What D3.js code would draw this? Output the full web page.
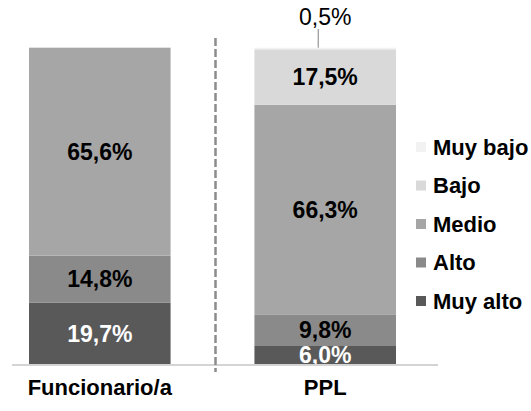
<!DOCTYPE html>
<html>
<head>
<meta charset="utf-8">
<script src="https://cdn.jsdelivr.net/npm/d3@7"></script>
<style>
  body { margin: 0; background: #fff; }
  svg { display: block; font-family: "Liberation Sans", Arial, sans-serif; }
</style>
</head>
<body>
<div id="chart"></div>
<script>
// Stacked 100% bars, Funcionario/a vs PPL
const categories = ["Funcionario/a", "PPL"]
const levels = ["Muy alto", "Alto", "Medio", "Bajo", "Muy bajo"]   // bottom to top
const muyAlto = [19.7, 6.0]
const alto = [14.8, 9.8]
const medio = [65.6, 66.3]
const bajo = [0, 17.5]
const muyBajo = [0, 0.5]
const legendOrder = ["Muy bajo", "Bajo", "Medio", "Alto", "Muy alto"]

const colors = {
  "Muy alto": "#595959",
  "Alto": "#8a8a8a",
  "Medio": "#a6a6a6",
  "Bajo": "#d9d9d9",
  "Muy bajo": "#f2f2f2"
}
const labelColors = { "Muy alto": "#ffffff", "Alto": "#000000", "Medio": "#000000", "Bajo": "#000000", "Muy bajo": "#000000" }

const rows = categories.map((c, i) => ({
  category: c,
  "Muy alto": muyAlto[i],
  "Alto": alto[i],
  "Medio": medio[i],
  "Bajo": bajo[i],
  "Muy bajo": muyBajo[i]
}))

const width = 531, height = 411

const svg = d3.select("#chart").append("svg")
  .attr("width", width)
  .attr("height", height)

const x = d3.scaleBand()
  .domain(categories)
  .range([29, 396])
  .paddingInner(0.372)
  .paddingOuter(0)

const y = d3.scaleLinear()
  .domain([0, 100])
  .range([365, 48])

const series = d3.stack().keys(levels)(rows)

// bars
const layers = svg.selectAll(".layer")
  .data(series)
  .enter()
  .append("g")
  .attr("class", "layer")
  .attr("fill", d => colors[d.key])

layers.selectAll("rect")
  .data(d => d.map(v => ({ key: d.key, v })))
  .enter()
  .append("rect")
  .attr("x", d => x(d.v.data.category))
  .attr("y", d => y(d.v[1]))
  .attr("width", x.bandwidth())
  .attr("height", d => y(d.v[0]) - y(d.v[1]))

// baseline
svg.append("line")
  .attr("x1", 12).attr("x2", 438)
  .attr("y1", y(0)).attr("y2", y(0))
  .attr("stroke", "#d4d4d4")
  .attr("stroke-width", 2)

// dashed separator
const sepX = x("Funcionario/a") + x.bandwidth() + (x("PPL") - x("Funcionario/a") - x.bandwidth()) / 2 + 3
svg.append("line")
  .attr("x1", sepX).attr("x2", sepX)
  .attr("y1", 38).attr("y2", 372)
  .attr("stroke", "#8c8c8c")
  .attr("stroke-width", 2.5)
  .attr("stroke-dasharray", "8,3")

// value labels inside segments (skip the tiny one)
const fmt = v => v.toFixed(1).replace(".", ",") + "%"
layers.selectAll("text")
  .data(d => d.map(v => ({ key: d.key, v })).filter(d => d.v[1] - d.v[0] >= 5))
  .enter()
  .append("text")
  .attr("x", d => x(d.v.data.category) + x.bandwidth() / 2)
  .attr("y", d => (y(d.v[0]) + y(d.v[1])) / 2)
  .attr("text-anchor", "middle")
  .attr("dominant-baseline", "central")
  .attr("fill", d => labelColors[d.key])
  .style("font-size", "23px")
  .style("font-weight", "bold")
  .text(d => fmt(d.v[1] - d.v[0]))

// small segment label with leader line
const tiny = series.find(s => s.key === "Muy bajo")[1]
const tinyX = x("PPL") + x.bandwidth() / 2
svg.append("line")
  .attr("x1", tinyX - 7).attr("x2", tinyX - 7)
  .attr("y1", 29).attr("y2", y(tiny[1]))
  .attr("stroke", "#808080")
  .attr("stroke-width", 1)
svg.append("text")
  .attr("x", tinyX)
  .attr("y", 17)
  .attr("text-anchor", "middle")
  .attr("dominant-baseline", "central")
  .style("font-size", "23px")
  .text(fmt(tiny[1] - tiny[0]))

// category labels
svg.append("g")
  .selectAll("text")
  .data(categories)
  .enter()
  .append("text")
  .attr("x", d => x(d) + x.bandwidth() / 2)
  .attr("y", 387)
  .attr("text-anchor", "middle")
  .attr("dominant-baseline", "central")
  .style("font-size", "22px")
  .style("font-weight", "bold")
  .text(d => d)

// legend
const legend = svg.append("g")
  .selectAll("g")
  .data(legendOrder)
  .enter()
  .append("g")
  .attr("transform", (d, i) => `translate(416,${147 + i * 38.5})`)

legend.append("rect")
  .attr("x", 0).attr("y", -5)
  .attr("width", 10).attr("height", 10)
  .attr("fill", d => colors[d])

legend.append("text")
  .attr("x", 17)
  .attr("y", 0)
  .attr("dominant-baseline", "central")
  .style("font-size", "22px")
  .style("font-weight", "bold")
  .text(d => d)
</script>
</body>
</html>
